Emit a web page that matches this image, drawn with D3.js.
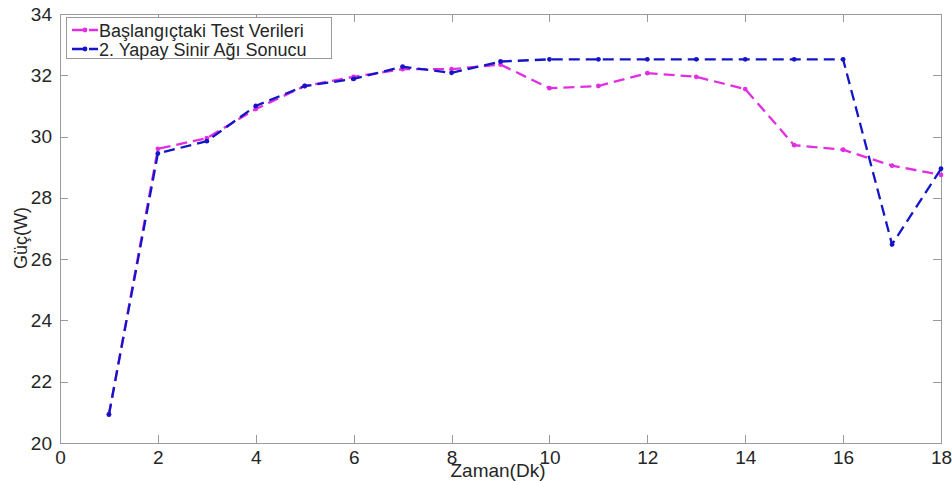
<!DOCTYPE html>
<head>
<meta charset="utf-8">
<title>Güç - Zaman</title>
<script src="https://cdn.jsdelivr.net/npm/d3@7"></script>
<style>
body { margin: 0; background: #fff; }
text { font-family: "Liberation Sans", Arial, sans-serif; fill: #262626; }
.axis path, .axis line { stroke: #9a9a9a; shape-rendering: crispEdges; }
</style>
</head>
<body>
<script>
// zaman (dk)
var minutes = [1, 2, 3, 4, 5, 6, 7, 8, 9, 10, 11, 12, 13, 14, 15, 16, 17, 18];
// başlangıçtaki test verileri
var testValues = [20.93, 29.6, 29.95, 30.9, 31.65, 31.95, 32.2, 32.2, 32.35, 31.58, 31.65, 32.07, 31.95, 31.55, 29.72, 29.57, 29.05, 28.75];
// yapay sinir ağı sonucu
var annValues = [20.93, 29.45, 29.85, 31.0, 31.65, 31.88, 32.28, 32.08, 32.45, 32.52, 32.52, 32.52, 32.52, 32.52, 32.52, 32.52, 26.48, 28.95];
var xTicks = [0, 2, 4, 6, 8, 10, 12, 14, 16, 18];
var yTicks = [20, 22, 24, 26, 28, 30, 32, 34];
var seriesNames = ["Başlangıçtaki Test Verileri", "2. Yapay Sinir Ağı Sonucu"];
var seriesColors = ["#e22ee2", "#1414c8"];

var width = 952, height = 481;
var mLeft = 60, mRight = 941, mTop = 14, mBottom = 443;

var svg = d3.select("body").append("svg")
	.attr("width", width)
	.attr("height", height);

var x = d3.scaleLinear().domain([0, 18]).range([mLeft, mRight]);
var y = d3.scaleLinear().domain([20, 34]).range([mBottom, mTop]);

// box
svg.append("rect")
	.attr("x", mLeft).attr("y", mTop)
	.attr("width", mRight - mLeft).attr("height", mBottom - mTop)
	.style("fill", "none").style("stroke", "#9a9a9a")
	.style("shape-rendering", "crispEdges");

svg.append("g").attr("class", "axis")
	.attr("transform", "translate(0," + mBottom + ")")
	.call(d3.axisBottom(x).tickValues(xTicks).tickSizeInner(-8).tickSizeOuter(0).tickPadding(8));
svg.append("g").attr("class", "axis")
	.attr("transform", "translate(0," + mTop + ")")
	.call(d3.axisTop(x).tickValues(xTicks).tickSizeInner(-8).tickSizeOuter(0).tickFormat(""));
svg.append("g").attr("class", "axis")
	.attr("transform", "translate(" + mLeft + ",0)")
	.call(d3.axisLeft(y).tickValues(yTicks).tickSizeInner(-8).tickSizeOuter(0).tickPadding(8));
svg.append("g").attr("class", "axis")
	.attr("transform", "translate(" + mRight + ",0)")
	.call(d3.axisRight(y).tickValues(yTicks).tickSizeInner(-8).tickSizeOuter(0).tickFormat(""));

svg.selectAll(".axis text")
	.style("font-size", "19px")
	.style("font-family", "'Liberation Sans', Arial, sans-serif")
	.style("fill", "#262626");
svg.selectAll(".axis .domain").remove();

// labels
svg.append("text")
	.attr("x", 498).attr("y", 477)
	.attr("text-anchor", "middle")
	.style("font-size", "19px")
	.text("Zaman(Dk)");
svg.append("text")
	.attr("transform", "translate(27,238) rotate(-90)")
	.attr("text-anchor", "middle")
	.style("font-size", "18px")
	.text("Güç(W)");

// lines
var line = d3.line()
	.x(function(d) { return x(d[0]); })
	.y(function(d) { return y(d[1]); });

var allSeries = [testValues, annValues];
allSeries.forEach(function(vals, i) {
	var pts = minutes.map(function(m, j) { return [m, vals[j]]; });
	svg.append("path")
		.datum(pts)
		.attr("d", line)
		.style("fill", "none")
		.style("stroke", seriesColors[i])
		.style("stroke-width", 2.3)
		.style("stroke-dasharray", "11,6");
	svg.selectAll(".dot" + i).data(pts).enter()
		.append("circle")
		.attr("cx", function(d) { return x(d[0]); })
		.attr("cy", function(d) { return y(d[1]); })
		.attr("r", 2.4)
		.style("fill", seriesColors[i]);
});

// legend
var lg = svg.append("g");
lg.append("rect")
	.attr("x", 66).attr("y", 17).attr("width", 265).attr("height", 41)
	.style("fill", "#fff").style("stroke", "#9a9a9a").style("shape-rendering", "crispEdges");
seriesNames.forEach(function(name, i) {
	var ly = 30 + i * 19;
	lg.append("line")
		.attr("x1", 72).attr("x2", 98).attr("y1", ly).attr("y2", ly)
		.style("stroke", seriesColors[i]).style("stroke-width", 2.3)
		.style("stroke-dasharray", "11,6");
	lg.append("circle").attr("cx", 85).attr("cy", ly).attr("r", 2.4).style("fill", seriesColors[i]);
	lg.append("text")
		.attr("x", 99).attr("y", ly + 6.5)
		.style("font-size", "18px")
		.text(name);
});
</script>
</body>
